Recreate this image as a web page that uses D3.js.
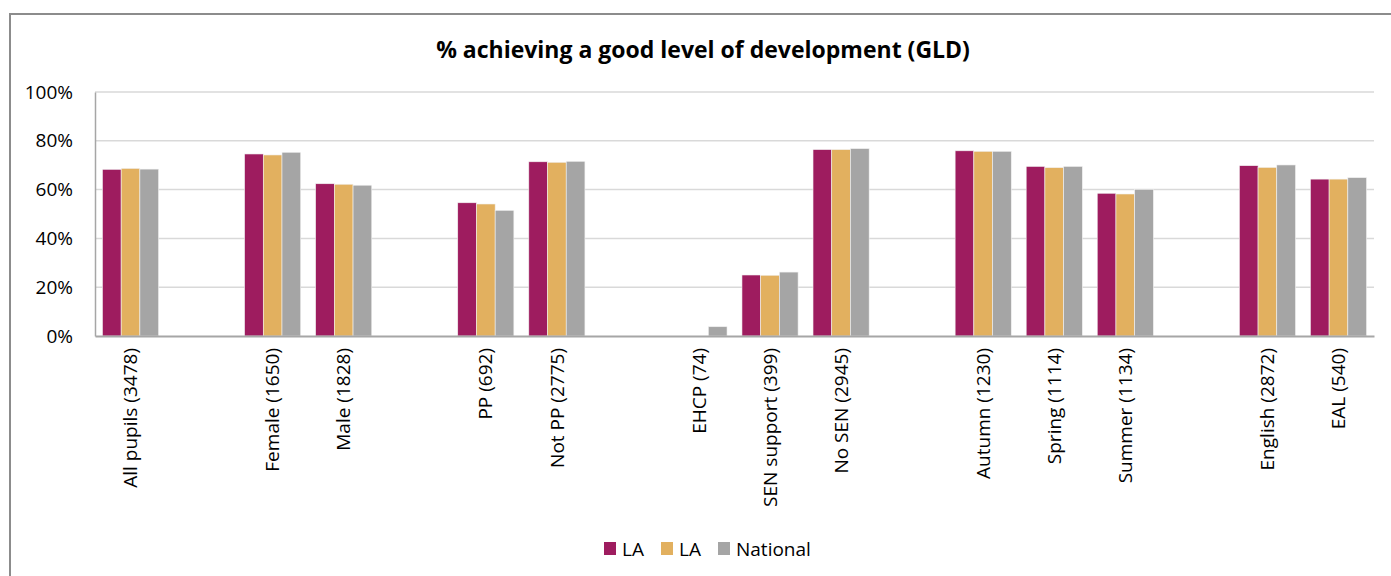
<!DOCTYPE html>
<html>
<head>
<meta charset="utf-8">
<script src="https://cdn.jsdelivr.net/npm/d3@7"></script>
<style>
  body { margin: 0; background: #fff; }
  svg { display: block; font-family: "Open Sans", "Noto Sans", sans-serif; }
</style>
</head>
<body>
<div id="chart"></div>
<script>
// categories, with blank slots between the groups
var categories = ["All pupils (3478)", "", "Female (1650)", "Male (1828)", "",
    "PP (692)", "Not PP (2775)", "", "EHCP (74)", "SEN support (399)", "No SEN (2945)", "",
    "Autumn (1230)", "Spring (1114)", "Summer (1134)", "", "English (2872)", "EAL (540)"];

var laValues       = [68.3, null, 74.6, 62.4, null, 54.6, 71.4, null, 0,   25.0, 76.4, null, 75.9, 69.5, 58.5, null, 69.8, 64.3];
var la2Values      = [68.7, null, 74.2, 62.2, null, 54.1, 71.2, null, 0,   24.9, 76.4, null, 75.7, 69.0, 58.2, null, 69.1, 64.3];
var nationalValues = [68.4, null, 75.3, 61.8, null, 51.5, 71.6, null, 3.8, 26.2, 76.8, null, 75.7, 69.5, 60.1, null, 70.1, 64.9];

var seriesNames = ["LA", "LA", "National"];
var seriesColors = ["#9e1c5f", "#e2b05f", "#a5a5a5"];
var yTicks = [0, 20, 40, 60, 80, 100];

var width = 1391, height = 576;
var margin = {top: 92, right: 17, bottom: 240, left: 95};
var fontFam = '"Open Sans", "Noto Sans", sans-serif';

var svg = d3.select("#chart").append("svg")
    .attr("width", width)
    .attr("height", height);

// outer frame
svg.append("rect")
    .attr("x", 10).attr("y", 14)
    .attr("width", width + 20).attr("height", height + 20)
    .attr("fill", "none")
    .attr("stroke", "#8c8c8c")
    .attr("stroke-width", 2);

svg.append("text")
    .attr("x", 703).attr("y", 58)
    .attr("text-anchor", "middle")
    .style("font-size", "23px")
    .style("font-weight", "bold")
    .style("fill", "#000")
    .text("% achieving a good level of development (GLD)");

var x = d3.scaleBand()
    .domain(d3.range(categories.length))
    .range([margin.left, width - margin.right]);

var y = d3.scaleLinear()
    .domain([0, 100])
    .range([336, margin.top]);

var groupW = x.bandwidth() * 0.79;
var xs = d3.scaleBand()
    .domain(d3.range(3))
    .range([0, groupW]);

// gridlines
svg.append("g").selectAll("line")
    .data(yTicks.filter(function(d) { return d > 0; }))
    .enter().append("line")
    .attr("x1", margin.left).attr("x2", width - margin.right)
    .attr("y1", function(d) { return y(d); })
    .attr("y2", function(d) { return y(d); })
    .attr("stroke", "#d9d9d9")
    .attr("stroke-width", 1.5);

// y axis
var yAxis = svg.append("g")
    .attr("transform", "translate(" + margin.left + ",0)")
    .call(d3.axisLeft(y).tickValues(yTicks).tickSize(0).tickPadding(22)
        .tickFormat(function(d) { return d + "%"; }));
yAxis.attr("font-family", null);
yAxis.select(".domain").attr("stroke", "#a6a6a6").attr("stroke-width", 1.5);
yAxis.selectAll("text")
    .style("font-family", fontFam)
    .style("font-size", "19px")
    .style("fill", "#000");

// bars
var allSeries = [laValues, la2Values, nationalValues];
allSeries.forEach(function(vals, s) {
    svg.append("g").selectAll("rect")
        .data(vals.map(function(v, i) { return {i: i, v: v}; })
            .filter(function(d) { return d.v !== null && d.v > 0; }))
        .enter().append("rect")
        .attr("x", function(d) { return x(d.i) + (x.bandwidth() - groupW) / 2 + xs(s); })
        .attr("y", function(d) { return y(d.v); })
        .attr("width", xs.bandwidth())
        .attr("height", function(d) { return y(0) - y(d.v); })
        .attr("fill", seriesColors[s])
        .attr("stroke", "#f2f2f2")
        .attr("stroke-width", 0.6);
});

// x axis
var xAxis = svg.append("g")
    .attr("transform", "translate(0," + y(0) + ")")
    .call(d3.axisBottom(x).tickSize(0).tickSizeOuter(0)
        .tickFormat(function(i) { return categories[i]; }));
xAxis.attr("font-family", null);
xAxis.select(".domain").attr("stroke", "#a6a6a6").attr("stroke-width", 2);
xAxis.selectAll("text")
    .style("font-family", fontFam)
    .style("font-size", "19px")
    .style("fill", "#000")
    .attr("text-anchor", "end")
    .attr("transform", "rotate(-90)")
    .attr("x", -12)
    .attr("y", 0)
    .attr("dy", "0.35em");

// legend
var legendX = [604, 661, 718];
var legend = svg.append("g");
seriesNames.forEach(function(name, s) {
    legend.append("rect")
        .attr("x", legendX[s]).attr("y", 542)
        .attr("width", 12).attr("height", 13)
        .attr("fill", seriesColors[s]);
    legend.append("text")
        .attr("x", legendX[s] + 18).attr("y", 556)
        .style("font-size", "19px")
        .style("fill", "#000")
        .text(name);
});
</script>
</body>
</html>
